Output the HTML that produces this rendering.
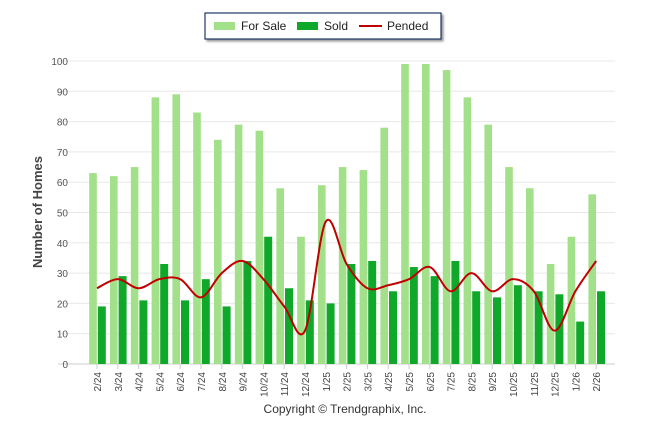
<!DOCTYPE html>
<html><head><meta charset="utf-8"><style>
body{margin:0;background:#fff;width:646px;height:434px;overflow:hidden;font-family:"Liberation Sans",sans-serif}
svg text{font-family:"Liberation Sans",sans-serif}
</style></head><body>
<svg id="c" width="646" height="434">
<g>
<rect x="205" y="13" width="236" height="26" fill="#fff" stroke="#1f3864" stroke-width="1.2" style="filter:drop-shadow(2px 2px 1px #999)"/>
<rect x="214" y="22" width="21" height="8" fill="#a3e08a"/>
<text x="241" y="30" font-size="12" fill="#222">For Sale</text>
<rect x="297" y="22" width="21" height="8" fill="#0fa82a"/>
<text x="324" y="30" font-size="12" fill="#222">Sold</text>
<line x1="359" y1="26" x2="382" y2="26" stroke="#c00000" stroke-width="2"/>
<text x="387" y="30" font-size="12" fill="#222">Pended</text>
</g>
<g id="grid"></g><g id="bars"></g><g id="line"></g><g id="xl"></g>
<text transform="translate(42,212) rotate(-90)" text-anchor="middle" font-size="13" font-weight="bold" fill="#444">Number of Homes</text>
<text x="345" y="413" text-anchor="middle" font-size="12" fill="#333">Copyright © Trendgraphix, Inc.</text>
</svg>
<script>
const categories=["2/24","3/24","4/24","5/24","6/24","7/24","8/24","9/24","10/24","11/24","12/24","1/25","2/25","3/25","4/25","5/25","6/25","7/25","8/25","9/25","10/25","11/25","12/25","1/26","2/26"];
const forSale=[63,62,65,88,89,83,74,79,77,58,42,59,65,64,78,99,99,97,88,79,65,58,33,42,56];
const sold=[19,29,21,33,21,28,19,34,42,25,21,20,33,34,24,32,29,34,24,22,26,24,23,14,24];
const pended=[25,28,25,28,28,22,30,34,28,19,11,47,33,25,26,28,32,24,30,24,28,24,11,24,34];
const yTicks=[0,10,20,30,40,50,60,70,80,90,100];
const NS="http://www.w3.org/2000/svg";
const x0=86.6,bw=20.8,yb=364,yt=61;
const xC=i=>x0+bw*(i+0.5);
const yS=v=>yb-(v/100)*(yb-yt);
function mk(tag,attrs,parent){const e=document.createElementNS(NS,tag);for(const k in attrs)e.setAttribute(k,attrs[k]);parent.appendChild(e);return e;}
const g=document.getElementById('grid');
yTicks.forEach(t=>{
 const l=mk('line',{x1:58,x2:615,y1:yS(t),y2:yS(t),stroke:t===0?'#ccc':'#e8e8e8'},g);
 
 
 const tx=mk('text',{x:68,y:yS(t)+4,'text-anchor':'end','font-size':10,fill:'#555'},g);
 tx.textContent=t;
 
 
});
const b=document.getElementById('bars');
categories.forEach((c,i)=>{
 const r1=mk('rect',{x:xC(i)-7.8,y:yS(forSale[i]),width:7.6,height:yb-yS(forSale[i]),fill:'#a3e08a'},b);
 
 
 const r2=mk('rect',{x:xC(i)+0.8,y:yS(sold[i]),width:8,height:yb-yS(sold[i]),fill:'#0fa82a'},b);
 
 
 const tk=mk('line',{x1:xC(i),x2:xC(i),y1:yb,y2:yb+5,stroke:'#ccc'},b);
 
 
 const tx=mk('text',{'text-anchor':'end','font-size':10,fill:'#444',transform:`translate(${xC(i)+4},${yb+8}) rotate(-90)`},document.getElementById('xl'));
 tx.textContent=c;
 
 
});
const pts=pended.map((v,i)=>[xC(i),yS(v)]);
let d=`M${pts[0][0]},${pts[0][1]}`;
for(let i=0;i<pts.length-1;i++){
 const p0=pts[i-1]||pts[i],p1=pts[i],p2=pts[i+1],p3=pts[i+2]||p2,t=1/6;
 d+=` C${p1[0]+(p2[0]-p0[0])*t},${p1[1]+(p2[1]-p0[1])*t} ${p2[0]-(p3[0]-p1[0])*t},${p2[1]-(p3[1]-p1[1])*t} ${p2[0]},${p2[1]}`;
}
const pl=mk('path',{d:d,fill:'none',stroke:'#c00000','stroke-width':2},document.getElementById('line'));


</script>
</body></html>
